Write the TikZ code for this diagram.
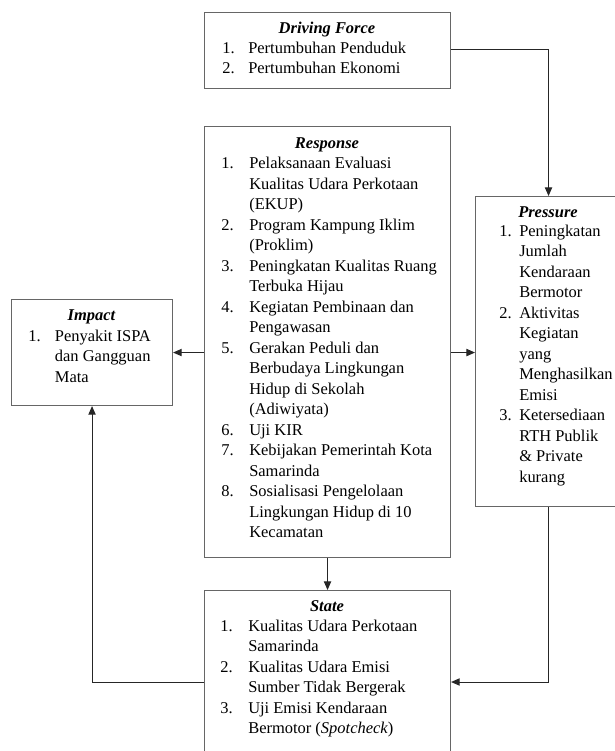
\documentclass[tikz,border=0pt]{standalone}
\usepackage{fontspec}
\setmainfont{Liberation Serif}
\usetikzlibrary{arrows.meta}
\newlength\lw
\newcommand{\rw}[2]{\makebox[\lw][l]{#1}#2}
\newcommand{\fsz}{\fontsize{12.35pt}{15.375pt}\selectfont}
\begin{document}
\begin{tikzpicture}[x=0.75pt,y=-0.75pt,
  box/.style={draw=black!60, line width=0.8pt, rectangle, inner sep=0pt, anchor=north west},
  ttl/.style={inner sep=0pt, anchor=base, font=\fsz\bfseries\itshape},
  lst/.style={inner sep=0pt, anchor=base west, font=\fsz},
  conn/.style={draw=black!85, line width=0.75pt, -{Triangle[length=6.5pt,width=5.5pt]}}
]
\useasboundingbox (0,0) rectangle (615,751);

% boxes
\node[box, minimum width=246*0.75pt, minimum height=76*0.75pt] (drv) at (204,12) {};
\node[box, minimum width=246*0.75pt, minimum height=431*0.75pt] (rsp) at (204,126) {};
\node[box, minimum width=146*0.75pt, minimum height=310*0.75pt] (prs) at (475,196) {};
\node[box, minimum width=161*0.75pt, minimum height=106*0.75pt] (imp) at (11,299) {};
\node[box, minimum width=246*0.75pt, minimum height=175*0.75pt] (ste) at (204,590) {};

% texts
\node[ttl] (drvt) at (327,33) {Driving Force};
\node[lst] (drvl) at (222,53) {\setlength\lw{19.5pt}\begin{tabular}[t]{@{}l@{}}
\rw{1.}{Pertumbuhan Penduduk}\\
\rw{2.}{Pertumbuhan Ekonomi}
\end{tabular}};

\node[ttl] (rspt) at (327,148) {Response};
\node[lst] (rspl) at (221,168.5) {\setlength\lw{21pt}\begin{tabular}[t]{@{}l@{}}
\rw{1.}{Pelaksanaan Evaluasi}\\
\rw{}{Kualitas Udara Perkotaan}\\
\rw{}{(EKUP)}\\
\rw{2.}{Program Kampung Iklim}\\
\rw{}{(Proklim)}\\
\rw{3.}{Peningkatan Kualitas Ruang}\\
\rw{}{Terbuka Hijau}\\
\rw{4.}{Kegiatan Pembinaan dan}\\
\rw{}{Pengawasan}\\
\rw{5.}{Gerakan Peduli dan}\\
\rw{}{Berbudaya Lingkungan}\\
\rw{}{Hidup di Sekolah}\\
\rw{}{(Adiwiyata)}\\
\rw{6.}{Uji KIR}\\
\rw{7.}{Kebijakan Pemerintah Kota}\\
\rw{}{Samarinda}\\
\rw{8.}{Sosialisasi Pengelolaan}\\
\rw{}{Lingkungan Hidup di 10}\\
\rw{}{Kecamatan}
\end{tabular}};

\node[ttl] (prst) at (548,217) {Pressure};
\node[lst] (prsl) at (499,236) {\setlength\lw{15pt}\begin{tabular}[t]{@{}l@{}}
\rw{1.}{Peningkatan}\\
\rw{}{Jumlah}\\
\rw{}{Kendaraan}\\
\rw{}{Bermotor}\\
\rw{2.}{Aktivitas}\\
\rw{}{Kegiatan}\\
\rw{}{yang}\\
\rw{}{Menghasilkan}\\
\rw{}{Emisi}\\
\rw{3.}{Ketersediaan}\\
\rw{}{RTH Publik}\\
\rw{}{\& Private}\\
\rw{}{kurang}
\end{tabular}};

\node[ttl] (impt) at (91.5,320) {Impact};
\node[lst] (impl) at (28,341) {\setlength\lw{20pt}\begin{tabular}[t]{@{}l@{}}
\rw{1.}{Penyakit ISPA}\\
\rw{}{dan Gangguan}\\
\rw{}{Mata}
\end{tabular}};

\node[ttl] (stet) at (327,611) {State};
\node[lst] (stel) at (220,631) {\setlength\lw{21pt}\begin{tabular}[t]{@{}l@{}}
\rw{1.}{Kualitas Udara Perkotaan}\\
\rw{}{Samarinda}\\
\rw{2.}{Kualitas Udara Emisi}\\
\rw{}{Sumber Tidak Bergerak}\\
\rw{3.}{Uji Emisi Kendaraan}\\
\rw{}{Bermotor (\textit{Spotcheck})}
\end{tabular}};

% connectors
\coordinate (ly) at (0,682);
\coordinate (dy) at (0,49.5);
\draw[conn] (drv.east |- dy) -| (prs.north);
\draw[conn] (rsp.east |- imp.east) -- (prs.west |- imp.east);
\draw[conn] (rsp.west |- imp.east) -- (imp.east);
\draw[conn] (rsp.south) -- (ste.north);
\draw[conn] (prs.south) |- (ste.east |- ly);
\draw[conn] (ste.west |- ly) -| (imp.south);
\end{tikzpicture}
\end{document}
